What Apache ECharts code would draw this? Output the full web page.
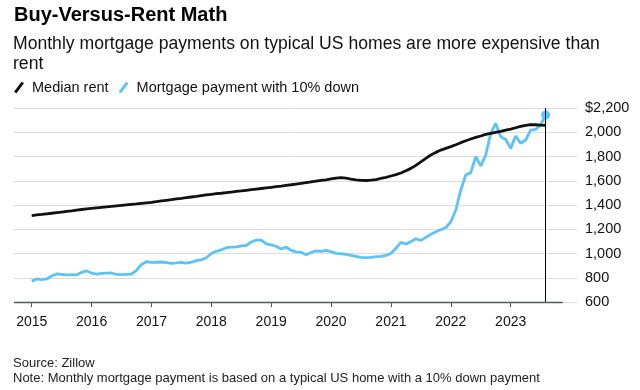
<!DOCTYPE html>
<html><head><meta charset="utf-8">
<script src="https://cdn.jsdelivr.net/npm/echarts@6/dist/echarts.min.js"></script>
<style>html,body{margin:0;padding:0;background:#fff}#c{width:640px;height:390px}</style>
</head><body><div id="c"></div>
<script>
// Monthly values, Jan 2015 – Aug 2023
const startYear = 2015;
const rent = [
  1312, 1318, 1322, 1327, 1332, 1337, 1342, 1347, 1352, 1358, 1363, 1368,
  1373, 1377, 1381, 1385, 1389, 1393, 1397, 1401, 1405, 1409, 1414, 1418,
  1422, 1428, 1434, 1439, 1444, 1450, 1455, 1461, 1466, 1471, 1477, 1483,
  1488, 1493, 1497, 1502, 1507, 1512, 1516, 1521, 1526, 1531, 1536, 1541,
  1546, 1551, 1556, 1562, 1567, 1573, 1579, 1585, 1591, 1597, 1603, 1608,
  1616, 1622, 1625, 1621, 1614, 1608, 1603, 1602, 1605, 1610, 1619, 1628,
  1639, 1650, 1664, 1683, 1702, 1727, 1755, 1785, 1812, 1834, 1853, 1867,
  1881, 1897, 1914, 1930, 1944, 1958, 1969, 1982, 1991, 1999, 2007, 2018,
  2026, 2037, 2048, 2056, 2062, 2062, 2059, 2056
];
const mortgage = [
  772, 790, 785, 790, 815, 832, 828, 824, 825, 823, 845, 856,
  839, 829, 836, 838, 839, 827, 825, 828, 831, 860, 910, 932,
  926, 928, 930, 925, 918, 922, 927, 920, 928, 941, 948, 965,
  1000, 1018, 1030, 1048, 1053, 1054, 1063, 1066, 1095, 1110, 1110, 1080,
  1072, 1058, 1038, 1052, 1025, 1013, 1010, 990, 1008, 1022, 1018, 1025,
  1015, 1001, 998, 993, 985, 976, 968, 966, 968, 974, 976, 985,
  1000, 1043, 1092, 1078, 1098, 1122, 1108, 1133, 1158, 1179, 1196, 1214,
  1262, 1359, 1524, 1647, 1667, 1799, 1722, 1812, 1991, 2073, 1963, 1941,
  1867, 1969, 1909, 1936, 2018, 2024, 2060, 2142
];
const yearTicks = [2015, 2016, 2017, 2018, 2019, 2020, 2021, 2022, 2023];
const yTicks = [600, 800, 1000, 1200, 1400, 1600, 1800, 2000, 2200];

const xs = rent.map((_, i) => startYear + i / 12);
const rentData = rent.map((v, i) => [xs[i], v]);
const mortData = mortgage.map((v, i) => [xs[i], v]);
const lastX = xs[xs.length - 1];

const FONT = "'Liberation Sans', Arial, Helvetica, sans-serif";
const BLUE = '#5bc3f5';
const BLACK = '#111111';
const SLASH = 'path://M0,12 L9,0 L12,2 L3,14 Z';
const X_MIN = 2014.704, X_MAX = 2024.108, X_AXIS_END = 2023.869;

function fmt(v) {
  const s = String(v).replace(/\B(?=(\d{3})+(?!\d))/g, ',');
  return v === yTicks[yTicks.length - 1] ? '$' + s : s;
}

const chart = echarts.init(document.getElementById('c'), null, { renderer: 'canvas' });
chart.setOption({
  animation: false,
  backgroundColor: '#fff',
  textStyle: { fontFamily: FONT },
  title: [
    { text: 'Buy-Versus-Rent Math', left: 14, top: 5.5, padding: 0,
      textStyle: { fontFamily: FONT, fontSize: 20, fontWeight: 'bold', color: '#000' } },
    { text: 'Monthly mortgage payments on typical US homes are more expensive than\nrent', left: 13, top: 34, padding: 0,
      textStyle: { fontFamily: FONT, fontSize: 17.6, fontWeight: 'normal', color: '#111', lineHeight: 20 } },
    { text: 'Source: Zillow\nNote: Monthly mortgage payment is based on a typical US home with a 10% down payment',
      left: 13, top: 356.5, padding: 0,
      textStyle: { fontFamily: FONT, fontSize: 13, fontWeight: 'normal', color: '#222', lineHeight: 14.5 } }
  ],
  legend: {
    left: 14, top: 80, padding: 0, itemWidth: 10, itemHeight: 12, itemGap: 10,
    selectedMode: false,
    itemStyle: { borderWidth: 0 },
    textStyle: { fontFamily: FONT, fontSize: 14.5, color: '#111', padding: [0, 0, 0, 3] },
    data: [
      { name: 'Median rent', icon: SLASH, itemStyle: { color: BLACK } },
      { name: 'Mortgage payment with 10% down', icon: SLASH, itemStyle: { color: BLUE } }
    ]
  },
  grid: { left: 14, right: 63, top: 108, bottom: 88 },
  xAxis: {
    type: 'value', min: X_MIN, max: X_MAX,
    splitLine: { show: false },
    axisLine: { show: false },
    axisTick: { show: true, customValues: yearTicks, length: 5, lineStyle: { color: '#555', width: 1 } },
    axisLabel: { customValues: yearTicks, fontFamily: FONT, fontSize: 14, color: '#111', margin: 13,
      formatter: v => String(Math.round(v)) }
  },
  yAxis: {
    type: 'value', position: 'right', min: 600, max: 2200, interval: 200,
    axisLine: { show: false }, axisTick: { show: false },
    splitLine: { lineStyle: { color: '#dcdcdc', width: 1 } },
    axisLabel: { fontFamily: FONT, fontSize: 14.5, color: '#111', margin: 8, align: 'left', formatter: fmt }
  },
  series: [
    {
      name: 'Mortgage payment with 10% down', type: 'line', data: mortData, z: 2,
      symbol: 'circle', showSymbol: true, showAllSymbol: true,
      symbolSize: (v, p) => (p.dataIndex === mortgage.length - 1 ? 9 : 0),
      lineStyle: { color: BLUE, width: 2.8 }, itemStyle: { color: BLUE },
      emphasis: { disabled: true }
    },
    {
      name: 'Median rent', type: 'line', data: rentData, z: 3, showSymbol: false,
      lineStyle: { color: BLACK, width: 2.8 }, itemStyle: { color: BLACK },
      emphasis: { disabled: true },
      markLine: {
        silent: true, symbol: ['none', 'none'], label: { show: false },
        lineStyle: { color: '#000', width: 1, type: 'solid' },
        data: [{ xAxis: lastX }]
      }
    }
  ]
});

// x-axis baseline (shorter than the grid, as in the reference)
const p0 = chart.convertToPixel({ gridIndex: 0 }, [X_MIN, 600]);
const p1 = chart.convertToPixel({ gridIndex: 0 }, [X_AXIS_END, 600]);
chart.setOption({
  graphic: [{
    type: 'line', z: 5, silent: true,
    shape: { x1: p0[0], y1: Math.round(p0[1]) + 0.5, x2: p1[0], y2: Math.round(p1[1]) + 0.5 },
    style: { stroke: '#4f5a5c', lineWidth: 1.5 }
  }]
});
</script></body></html>
